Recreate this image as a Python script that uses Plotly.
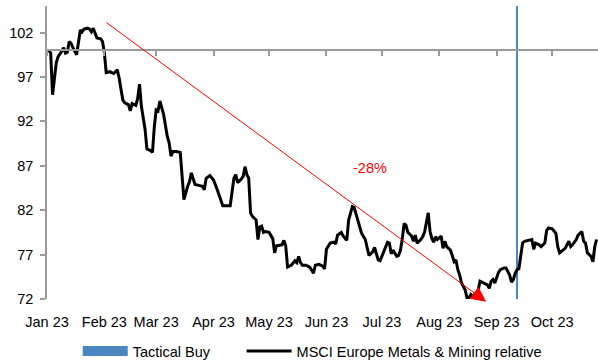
import plotly.graph_objects as go

# MSCI Europe Metals & Mining, relative performance (rebased to 100)
dates = [
    "2023-01-01", "2023-01-02", "2023-01-03", "2023-01-04", "2023-01-06", "2023-01-07",
    "2023-01-09", "2023-01-10", "2023-01-11", "2023-01-12", "2023-01-13", "2023-01-14",
    "2023-01-15", "2023-01-17", "2023-01-19", "2023-01-20", "2023-01-21", "2023-01-23",
    "2023-01-24", "2023-01-25", "2023-01-26", "2023-01-27", "2023-01-28", "2023-01-30",
    "2023-01-31",
    "2023-02-01", "2023-02-02", "2023-02-04", "2023-02-06", "2023-02-08", "2023-02-09",
    "2023-02-10", "2023-02-11", "2023-02-12", "2023-02-14", "2023-02-15", "2023-02-16",
    "2023-02-18", "2023-02-19", "2023-02-20", "2023-02-21", "2023-02-23", "2023-02-24",
    "2023-02-26", "2023-02-27", "2023-02-28",
    "2023-03-01", "2023-03-02", "2023-03-03", "2023-03-05", "2023-03-06", "2023-03-07",
    "2023-03-08", "2023-03-09", "2023-03-10", "2023-03-12", "2023-03-14", "2023-03-15",
    "2023-03-16", "2023-03-18", "2023-03-19", "2023-03-20", "2023-03-22", "2023-03-24",
    "2023-03-26", "2023-03-27", "2023-03-28", "2023-03-30",
    "2023-04-01", "2023-04-03", "2023-04-05", "2023-04-06", "2023-04-10", "2023-04-11",
    "2023-04-12", "2023-04-13", "2023-04-14", "2023-04-16", "2023-04-17", "2023-04-18",
    "2023-04-19", "2023-04-20", "2023-04-21", "2023-04-22", "2023-04-24", "2023-04-25",
    "2023-04-26", "2023-04-27", "2023-04-28", "2023-04-29",
    "2023-05-01", "2023-05-03", "2023-05-04", "2023-05-05", "2023-05-08", "2023-05-09",
    "2023-05-10", "2023-05-11", "2023-05-13", "2023-05-15", "2023-05-16", "2023-05-17",
    "2023-05-18", "2023-05-19", "2023-05-21", "2023-05-23", "2023-05-25", "2023-05-26",
    "2023-05-28", "2023-05-30", "2023-05-31",
    "2023-06-01", "2023-06-03", "2023-06-05", "2023-06-06", "2023-06-07", "2023-06-09",
    "2023-06-10", "2023-06-12", "2023-06-13", "2023-06-15", "2023-06-16", "2023-06-17",
    "2023-06-18", "2023-06-20", "2023-06-22", "2023-06-23", "2023-06-24", "2023-06-26",
    "2023-06-27", "2023-06-28", "2023-06-29", "2023-06-30",
    "2023-07-02", "2023-07-04", "2023-07-05", "2023-07-06", "2023-07-07", "2023-07-09",
    "2023-07-10", "2023-07-11", "2023-07-12", "2023-07-13", "2023-07-14", "2023-07-15",
    "2023-07-17", "2023-07-18", "2023-07-19", "2023-07-20", "2023-07-22", "2023-07-23",
    "2023-07-24", "2023-07-25", "2023-07-26", "2023-07-27", "2023-07-28", "2023-07-29",
    "2023-07-30", "2023-07-31",
    "2023-08-02", "2023-08-03", "2023-08-04", "2023-08-05", "2023-08-07", "2023-08-08",
    "2023-08-09", "2023-08-10", "2023-08-11", "2023-08-12", "2023-08-13", "2023-08-15",
    "2023-08-16", "2023-08-17", "2023-08-18", "2023-08-19", "2023-08-20", "2023-08-21",
    "2023-08-22", "2023-08-23", "2023-08-25", "2023-08-27", "2023-08-28", "2023-08-29",
    "2023-08-30", "2023-08-31",
    "2023-09-02", "2023-09-03", "2023-09-05", "2023-09-06", "2023-09-07", "2023-09-08",
    "2023-09-09", "2023-09-10", "2023-09-11", "2023-09-12", "2023-09-13", "2023-09-14",
    "2023-09-15", "2023-09-16", "2023-09-18", "2023-09-20", "2023-09-21", "2023-09-22",
    "2023-09-24", "2023-09-25", "2023-09-27", "2023-09-28", "2023-09-29",
    "2023-10-01", "2023-10-03", "2023-10-04", "2023-10-05", "2023-10-07", "2023-10-08",
    "2023-10-10", "2023-10-11", "2023-10-12", "2023-10-14", "2023-10-15", "2023-10-17",
    "2023-10-18", "2023-10-19", "2023-10-20", "2023-10-22", "2023-10-23", "2023-10-24",
    "2023-10-25",
]
relative = [
    100.0, 100.0, 99.7, 95.0, 98.6, 99.3,
    99.9, 100.3, 99.7, 99.8, 101.0, 100.8,
    100.3, 99.5, 102.3, 102.1, 102.4, 102.5,
    102.4, 102.1, 102.5, 102.0, 101.4, 101.3,
    101.0,
    99.7, 97.5, 97.6, 97.4, 97.8, 96.9,
    95.6, 94.4, 94.1, 93.9, 93.2, 94.0,
    93.8, 94.6, 96.2, 93.7, 91.1, 88.9,
    88.7, 88.5, 91.4,
    93.3, 93.2, 94.3, 92.8, 91.6, 90.3,
    89.6, 88.1, 88.6, 88.6, 88.5, 86.2,
    83.2, 84.7, 85.2, 86.2, 84.9, 84.8,
    84.7, 84.3, 85.6, 85.9,
    85.4, 84.3, 83.2, 82.5, 82.5, 84.3,
    85.6, 86.0, 85.1, 85.5, 85.8, 86.9,
    86.0, 85.6, 81.7, 81.3, 80.9, 78.7,
    80.1, 80.2, 79.5, 79.6,
    79.5, 78.8, 77.2, 78.0, 78.1, 78.6,
    78.0, 75.6, 75.8, 76.3, 76.1, 76.8,
    76.1, 75.8, 75.8, 75.6, 74.9, 75.8,
    75.9, 75.7, 75.4,
    77.6, 78.3, 78.4, 78.2, 79.2, 79.5,
    79.1, 78.6, 80.9, 82.4, 82.3, 81.5,
    80.7, 79.4, 78.7, 77.9, 76.9, 77.3,
    77.8, 77.1, 76.4, 76.3,
    77.3, 78.4, 78.3, 77.1, 77.5, 76.8,
    76.9, 77.5, 78.8, 80.5, 80.3, 79.5,
    79.1, 78.5, 79.2, 78.3, 78.7, 79.0,
    79.5, 80.7, 81.7, 79.6, 78.8, 78.4,
    79.0, 78.7,
    79.1, 77.7, 78.5, 77.9, 77.5, 76.9,
    76.2, 76.4, 75.3, 74.7, 73.8, 73.0,
    72.1, 72.1, 72.5, 72.3, 72.5, 72.5,
    73.0, 74.0, 73.8, 73.6, 73.2, 74.0,
    74.2, 73.8,
    75.0, 75.3, 75.5, 75.5, 75.1, 74.7,
    73.9, 74.2, 74.9, 75.3, 75.4, 76.8,
    78.3, 78.5, 78.6, 78.7, 77.6, 78.3,
    78.1, 77.9, 78.3, 79.7, 80.0,
    79.9, 79.4, 77.9, 77.2, 77.6, 77.7,
    78.5, 77.9, 78.1, 78.7, 79.2, 79.6,
    78.5, 78.3, 77.2, 76.8, 76.2, 77.9,
    78.7,
]

# Tactical buy signal (column series reaching the top of the value axis)
buy_dates = ["2023-09-12"]
buy_values = [105]

# Downtrend arrow from the January high to the August low
trend_start = ("2023-02-01 08:00", 103.25)
trend_end = ("2023-08-26 07:00", 71.7)
trend_label = "-28%"
trend_label_pos = ("2023-06-24 14:00", 86.7)

y_ticks = [72, 77, 82, 87, 92, 97, 102]
x_range = ["2023-01-01", "2023-10-25 18:00"]
y_range = [72, 105]
axis_cross = 100

FONT = "Liberation Sans, Arial, sans-serif"
AXIS_GREY = "#9B9B9B"
BLUE = "#4A86C0"

fig = go.Figure()

fig.add_trace(go.Bar(
    x=buy_dates, y=buy_values, width=[86400000 * 1.1],
    marker=dict(color=BLUE, line=dict(width=0)),
    name="Tactical Buy", showlegend=False, legendgroup="buy",
    hoverinfo="skip",
))
# legend swatch for the buy signal
fig.add_trace(go.Scatter(
    x=[None], y=[None], mode="lines", xaxis="x2",
    line=dict(color=BLUE, width=10),
    name="Tactical Buy", legendgroup="buy", legend="legend",
))
fig.add_trace(go.Scatter(
    x=dates, y=relative, mode="lines",
    line=dict(color="black", width=3),
    name="MSCI Europe Metals & Mining relative", legend="legend2",
))

fig.add_annotation(
    x=trend_end[0], y=trend_end[1], ax=trend_start[0], ay=trend_start[1],
    xref="x", yref="y", axref="x", ayref="y",
    text="", showarrow=True, arrowhead=2, arrowsize=3, arrowwidth=1,
    arrowcolor="#FF0000", standoff=0,
)
fig.add_annotation(
    x=trend_label_pos[0], y=trend_label_pos[1], xref="x", yref="y",
    text=trend_label, showarrow=False,
    font=dict(family=FONT, size=14.5, color="#FF0000"),
)

legend_style = dict(
    orientation="h", xref="container", yref="container",
    y=0.03, xanchor="left", yanchor="middle",
    itemwidth=45, font=dict(family=FONT, size=14.5),
    bgcolor="rgba(0,0,0,0)",
)

fig.update_layout(
    width=598, height=362,
    margin=dict(l=47, r=0, t=6, b=63),
    paper_bgcolor="white", plot_bgcolor="white",
    font=dict(family=FONT, size=14.5, color="black"),
    bargap=0,
    xaxis=dict(
        type="date", range=x_range, tick0="2023-01-01", dtick="M1",
        tickformat="%b %y", showline=False, ticks="", showgrid=False,
        zeroline=False, ticklabelstandoff=12,
    ),
    xaxis2=dict(
        type="date", overlaying="x", matches="x", range=x_range,
        anchor="free", position=(axis_cross - y_range[0]) / (y_range[1] - y_range[0]),
        tick0="2023-01-01", dtick="M1", showticklabels=False,
        showline=True, linecolor=AXIS_GREY, linewidth=1.5,
        ticks="outside", ticklen=5, tickwidth=1.5, tickcolor=AXIS_GREY,
        showgrid=False, zeroline=False,
    ),
    yaxis=dict(
        range=y_range, tickvals=y_ticks, showline=True, linecolor=AXIS_GREY,
        linewidth=1.5, ticks="outside", ticklen=5, tickwidth=1.5,
        tickcolor=AXIS_GREY, showgrid=False, zeroline=False,
        ticklabelstandoff=4,
    ),
    legend=dict(legend_style, x=0.13),
    legend2=dict(legend_style, x=0.404),
    showlegend=True,
)

fig.write_html("out.html")
